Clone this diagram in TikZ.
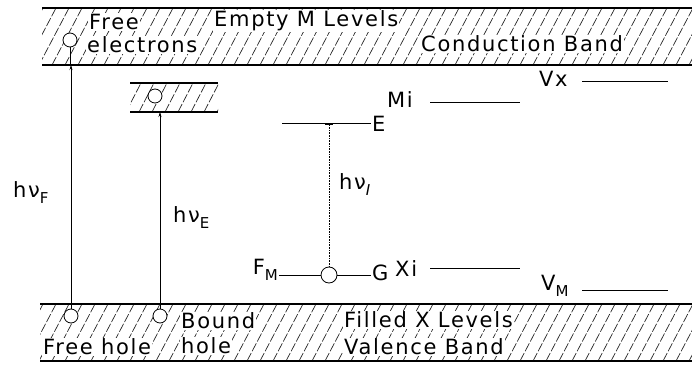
\documentclass[tikz,border=0pt]{standalone}
\usepackage{fontspec}
\newfontfamily\plotfont{DejaVu Sans}[LetterSpace=8]
\usetikzlibrary{arrows.meta}
\newcommand{\sub}[1]{\raisebox{-6pt}{\fontsize{15}{15}\selectfont #1}}
\begin{document}
\begin{tikzpicture}[x=1pt,y=-1pt,
    every node/.style={font=\plotfont\fontsize{21}{23}\selectfont, inner sep=1pt},
    band/.style={line width=1.3pt},
    hatch/.style={black!85, line width=0.7pt, dash pattern=on 9pt off 2pt},
    level/.style={line width=1pt},
    trans/.style={line width=0.6pt, -{Stealth[length=5pt,width=3pt]}},
    label/.style={fill=white, anchor=west},
    carrier/.style={circle, draw, fill=white, line width=0.8pt, minimum size=14pt, inner sep=0pt}]
    \useasboundingbox (0,0) rectangle (692,366);

    % Conduction band
    \begin{scope}
        \clip (42,8) rectangle (692,65);
        \foreach \x in {0,13,...,720} \draw[hatch] (\x,65) -- ++(30,-57);
    \end{scope}
    \draw[band] (42,8) -- (692,8);
    \draw[band] (42,65) -- (692,65);
    \coordinate (cbbot) at (0,65);

    % Bound electron level (small band)
    \begin{scope}
        \clip (130,83) rectangle (218,112);
        \foreach \x in {100,113,...,230} \draw[hatch] (\x,112) -- ++(15,-29);
    \end{scope}
    \draw[band] (130,83) -- (218,83);
    \draw[band] (130,112) -- (218,112);
    \coordinate (bbot) at (0,112);

    % Valence band
    \begin{scope}
        \clip (40,304) rectangle (692,361);
        \foreach \x in {0,13,...,720} \draw[hatch] (\x,361) -- ++(30,-57);
    \end{scope}
    \draw[band] (40,304) -- (692,304);
    \draw[band] (40,361) -- (692,361);
    \coordinate (vbtop) at (0,304);

    % Band labels
    \node[label] (free) at (88,22) {Free};
    \node[label] (electrons) at (86,45) {electrons};
    \node[label] (empty) at (213,21) {Empty M Levels};
    \node[label] (cband) at (420,44) {Conduction Band};
    \node[label] (bound) at (180,321) {Bound};
    \node[label] (bhole) at (180,346) {hole};
    \node[label] (fhole) at (42,347) {Free hole};
    \node[label] (filled) at (343,320) {Filled X Levels};
    \node[label] (vband) at (343,347) {Valence Band};

    % Electrons and holes
    \node[carrier] (fe) at (70,40) {};
    \node[carrier] (be) at (155,96) {};
    \node[carrier] (fh) at (71,316) {};
    \node[carrier] (bh) at (160,316) {};

    % Free transition
    \draw[line width=0.6pt] (fh) -- (fh |- vbtop);
    \draw[trans] (fh |- vbtop) -- (fh |- cbbot);
    \draw[line width=0.6pt] (fe |- cbbot) -- (fe);
    \node[anchor=west] (hnuf) at (12,193) {hν\sub{F}};

    % Bound transition
    \draw[line width=0.6pt] (bh) -- (bh |- vbtop);
    \draw[trans] (bh |- vbtop) -- (bh |- bbot);
    \node[anchor=west] (hnue) at (172,218) {hν\sub{E}};

    % Internal transition
    \node[anchor=west] (e) at (371,124) {E};
    \draw[level] (282,124) -- (e.west);
    \node[carrier, minimum size=16pt] (ig) at (329,275) {};
    \node[anchor=east] (fm) at (279,270) {F\sub{M}};
    \node[anchor=west] (g) at (371,273) {G};
    \draw[level] (fm.east |- ig) -- (ig);
    \draw[level] (ig) -- (g.west |- ig);
    \draw[trans, densely dotted, -{Bar[width=8pt]}] (ig) -- (ig |- e.west);
    \node[anchor=west] (hnui) at (338,185) {hν\sub{\textit{I}}};

    % Impurity levels
    \node[anchor=west] (mi) at (386,100) {Mi};
    \draw[level] (430,103) -- (520,103);
    \node[anchor=west] (vx) at (538,79) {Vx};
    \draw[level] (582,82) -- (668,82);
    \node[anchor=west] (xi) at (394,269) {Xi};
    \draw[level] (430,268) -- (520,268);
    \node[anchor=west] (vm) at (540,286) {V\sub{M}};
    \draw[level] (582,290) -- (668,290);
\end{tikzpicture}
\end{document}
